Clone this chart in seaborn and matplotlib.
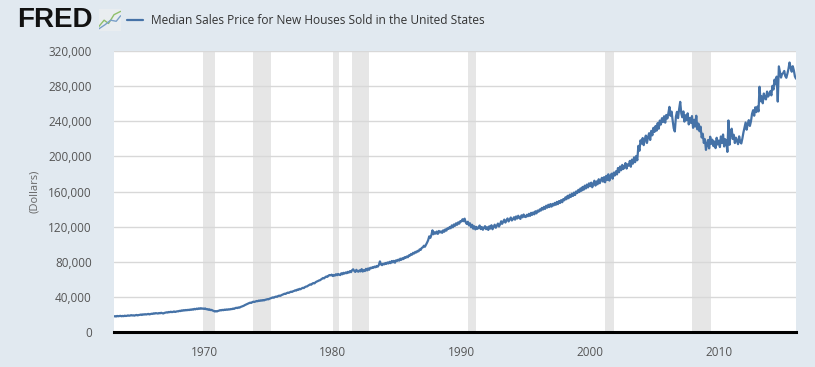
#!/usr/bin/env python3

import matplotlib
matplotlib.use("Agg")
import matplotlib.pyplot as plt
import matplotlib.dates as mdates
from matplotlib.lines import Line2D
from matplotlib.ticker import FuncFormatter
import numpy as np
import pandas as pd
import seaborn as sns

# Monthly median sales price, thousands of dollars
price_1960s = [
    17.8, 18.0, 17.6, 18.3, 17.9, 18.1, 18.4, 17.9, 18.3, 18.0, 18.6, 18.2,  # 1963
    18.4, 18.9, 18.5, 18.7, 19.2, 18.8, 19.0, 18.6, 19.1, 19.4, 18.9, 19.3,
    19.5, 19.9, 19.4, 20.1, 19.8, 20.3, 19.9, 20.2, 20.6, 20.0, 20.4, 20.8,
    20.6, 21.3, 20.9, 21.5, 21.2, 21.0, 21.6, 21.3, 21.9, 21.4, 21.1, 21.7,
    22.0, 22.4, 22.1, 22.8, 22.5, 23.1, 22.6, 22.9, 23.4, 22.8, 23.2, 23.6,
    23.5, 24.1, 23.8, 24.6, 24.2, 24.9, 24.5, 25.1, 24.7, 25.3, 24.9, 25.6,
    25.2, 25.9, 25.5, 26.3, 25.8, 26.6, 26.1, 26.9, 26.4, 27.1, 26.5, 26.8,
]
price_1970s = [
    26.2, 26.8, 25.9, 26.1, 25.3, 25.8, 24.9, 25.2, 24.4, 24.0, 23.3, 23.8,  # 1970
    23.4, 24.0, 24.3, 24.9, 24.6, 25.2, 24.8, 25.5, 25.1, 25.7, 25.3, 25.9,
    25.6, 26.2, 26.0, 26.7, 26.3, 27.1, 27.6, 27.2, 28.0, 27.7, 28.5, 28.9,
    29.4, 29.9, 30.6, 31.2, 31.8, 32.3, 32.9, 33.4, 33.1, 34.0, 34.5, 34.2,
    34.8, 35.3, 35.0, 35.8, 35.4, 36.1, 35.7, 36.4, 36.0, 36.7, 36.9, 37.4,
    37.2, 37.9, 38.3, 38.8, 39.4, 39.0, 39.8, 40.3, 40.0, 40.9, 41.4, 41.1,
    41.8, 42.5, 42.9, 43.6, 43.3, 44.2, 44.8, 44.5, 45.3, 45.9, 45.6, 46.4,
    46.8, 47.5, 47.2, 48.3, 48.0, 49.1, 48.7, 49.6, 50.3, 50.0, 51.1, 51.7,
    51.9, 52.8, 53.4, 54.2, 53.9, 55.1, 55.8, 55.4, 56.7, 57.4, 57.9, 58.6,
    58.9, 59.8, 60.7, 61.5, 61.1, 62.4, 63.2, 62.8, 64.1, 64.9, 64.5, 65.3,
]
price_1980s = [
    63.7, 64.9, 64.2, 65.8, 64.6, 66.1, 65.3, 64.8, 66.9, 65.7, 67.4, 66.5,  # 1980
    67.8, 66.9, 68.5, 67.6, 69.3, 68.1, 70.2, 71.4, 69.6, 68.4, 70.8, 69.1,
    68.7, 70.3, 69.0, 71.6, 68.8, 70.5, 69.4, 71.9, 70.1, 72.4, 70.9, 73.2,
    72.6, 73.8, 73.1, 74.5, 73.7, 75.2, 74.4, 76.3, 80.4, 76.9, 76.1, 77.8,
    77.0, 78.6, 77.5, 79.2, 78.0, 79.9, 78.4, 80.8, 79.3, 81.0, 78.9, 81.6,
    80.9, 82.4, 81.3, 83.5, 82.2, 84.1, 83.0, 85.2, 84.4, 86.0, 85.1, 87.3,
    87.0, 88.9, 88.1, 90.2, 89.4, 91.3, 90.6, 92.4, 91.8, 94.1, 93.5, 95.8,
    96.4, 98.3, 97.1, 99.5, 101.8, 104.6, 108.9, 107.2, 110.5, 115.8, 111.3, 113.6,
    112.0, 114.4, 111.7, 115.1, 113.3, 114.6, 112.9, 115.8, 114.2, 116.9, 115.5, 118.2,
    117.3, 119.6, 118.1, 121.4, 119.2, 122.5, 120.9, 123.8, 122.1, 124.9, 123.4, 126.3,
]
price_1990s = [
    125.8, 128.4, 126.2, 129.1, 124.9, 123.0, 125.6, 121.4, 123.8, 119.2, 122.1, 117.6,  # 1990
    120.4, 116.8, 119.7, 117.5, 118.9, 121.3, 117.2, 119.6, 116.4, 118.8, 120.5, 117.1,
    119.3, 116.2, 120.4, 117.8, 121.6, 117.0, 119.5, 122.2, 118.7, 121.0, 123.5, 120.1,
    122.6, 126.1, 123.2, 125.8, 128.0, 124.6, 127.1, 129.3, 125.9, 128.2, 130.4, 127.0,
    128.5, 130.7, 127.9, 131.6, 129.2, 132.4, 130.1, 128.8, 132.9, 130.6, 133.8, 131.2,
    130.9, 133.5, 131.8, 134.6, 132.2, 135.7, 133.4, 136.2, 134.0, 137.5, 135.1, 138.3,
    137.0, 139.6, 138.2, 141.3, 139.4, 142.5, 140.2, 143.8, 141.6, 144.9, 142.3, 145.7,
    142.8, 145.9, 144.1, 147.0, 144.8, 148.2, 145.6, 149.1, 146.9, 150.2, 147.8, 151.4,
    150.0, 153.4, 151.2, 155.1, 152.3, 156.4, 153.7, 157.6, 154.9, 158.8, 156.0, 160.1,
    158.2, 161.9, 159.4, 163.5, 160.8, 165.2, 162.0, 166.7, 163.4, 167.9, 164.6, 169.3,
]
price_2000s = [
    166.0, 170.1, 164.8, 168.9, 172.3, 166.7, 171.5, 168.2, 174.0, 169.4, 172.8, 175.6,  # 2000
    171.2, 176.4, 170.5, 177.8, 173.1, 179.6, 172.4, 176.9, 180.3, 174.6, 181.5, 178.2,
    183.0, 179.4, 186.7, 181.9, 188.5, 184.2, 190.3, 185.6, 187.9, 192.4, 186.1, 191.0,
    189.5, 194.8, 188.2, 196.3, 191.7, 198.9, 193.4, 200.5, 195.6, 212.0, 206.4, 218.3,
    214.6, 220.9, 212.8, 219.5, 223.7, 215.3, 221.8, 226.4, 218.7, 229.1, 224.0, 232.5,
    227.8, 234.6, 229.3, 237.9, 231.5, 240.8, 236.2, 243.5, 239.1, 245.7, 238.4, 247.2,
    243.1, 249.6, 256.4, 246.2, 251.0, 240.8, 232.0, 228.4, 245.3, 250.7, 243.6, 253.8,
    262.1, 248.9, 244.5, 251.2, 239.6, 246.8, 241.3, 249.0, 236.4, 243.7, 238.2, 245.9,
    232.5, 241.7, 234.0, 246.3, 230.8, 237.4, 228.6, 233.9, 221.5, 225.8, 215.3, 219.6,
    207.4, 213.8, 218.6, 209.1, 222.4, 214.3, 219.0, 211.7, 216.9, 209.4, 221.2, 213.5,
]
price_2010s = [
    218.0, 210.6, 222.7, 215.4, 224.9, 211.3, 219.6, 216.8, 205.1, 240.9, 213.2, 226.3,  # 2010
    231.5, 219.8, 224.6, 215.2, 221.3, 217.6, 213.9, 222.8, 216.4, 214.7, 220.5, 227.3,
    233.1, 238.6, 230.4, 236.9, 241.3, 234.7, 239.8, 248.5, 252.6, 246.3, 255.9, 250.4,
    256.7, 251.2, 279.3, 262.8, 268.4, 260.5, 271.6, 266.2, 264.9, 273.8, 268.1, 270.6,
    274.2, 269.5, 280.3, 276.1, 287.4, 282.0, 290.8, 262.4, 302.5, 296.3, 289.7, 293.8,
    294.8, 297.3, 291.6, 289.5, 294.1, 299.6, 306.9, 301.2, 296.4, 302.7, 297.8, 291.0,
    288.5,  # 2016-01
]

recession_starts = ["1969-12-01", "1973-11-01", "1980-01-01", "1981-07-01",
                    "1990-07-01", "2001-03-01", "2007-12-01"]
recession_ends = ["1970-11-01", "1975-03-01", "1980-07-01", "1982-11-01",
                  "1991-03-01", "2001-11-01", "2009-06-01"]

y_ticks = [0, 40000, 80000, 120000, 160000, 200000, 240000, 280000, 320000]

title = "Median Sales Price for New Houses Sold in the United States"

values = price_1960s + price_1970s + price_1980s + price_1990s + price_2000s + price_2010s
df = pd.DataFrame({
    "date": pd.date_range("1963-01-01", periods=len(values), freq="MS"),
    "price": np.array(values) * 1000,
})

bg = "#e1e9f0"
line_color = "#4572a7"

sns.set_theme(style="white")
plt.rcParams["font.family"] = ["Open Sans", "DejaVu Sans"]

fig = plt.figure(figsize=(8.15, 3.67), dpi=100, facecolor=bg)
ax = fig.add_axes([0.1399, 0.0954, 0.8368, 0.7656])
ax.set_facecolor("white")

for s, e in zip(recession_starts, recession_ends):
    ax.axvspan(pd.Timestamp(s), pd.Timestamp(e), color="#e6e6e6", lw=0, zorder=0)

for t in y_ticks[1:]:
    ax.axhline(t, color="#d8d8d8", lw=1, zorder=1)

sns.lineplot(data=df, x="date", y="price", color=line_color, lw=1.6, ax=ax, zorder=3)

ax.set_xlim(df["date"].iloc[0], df["date"].iloc[-1])
ax.set_ylim(0, 320000)
ax.set_yticks(y_ticks)
ax.yaxis.set_major_formatter(FuncFormatter(lambda v, p: f"{int(v):,}"))
ax.xaxis.set_major_locator(mdates.YearLocator(10))
ax.xaxis.set_major_formatter(mdates.DateFormatter("%Y"))

for side in ["top", "right", "left"]:
    ax.spines[side].set_visible(False)
ax.spines["bottom"].set_color("black")
ax.spines["bottom"].set_linewidth(2.2)
ax.spines["bottom"].set_zorder(5)

ax.tick_params(axis="x", colors="#ccd6eb", length=6, width=1, direction="out",
               labelcolor="#555555", labelsize=8.5, pad=4)
ax.tick_params(axis="y", length=0, labelcolor="#555555", labelsize=8.5, pad=16)
ax.set_xlabel("")
ax.set_ylabel("(Dollars)", color="#666666", fontsize=8, labelpad=6)

# header: logo and legend
fig.text(0.021, 0.945, "FRED", fontsize=20, fontweight="heavy", color="#111111",
         family=["Liberation Sans", "DejaVu Sans"], va="center", ha="left")
icon = fig.add_axes([0.121, 0.915, 0.027, 0.06])
icon.set_facecolor("#e9edf0")
icon.plot([0, 0.25, 0.45, 0.7, 1], [0.2, 0.5, 0.35, 0.75, 0.9], color="#8fbf6a", lw=1)
icon.plot([0, 0.3, 0.55, 0.8, 1], [0.1, 0.3, 0.5, 0.45, 0.7], color="#7aa0c8", lw=1)
icon.set_xlim(0, 1)
icon.set_ylim(0, 1)
icon.set_xticks([])
icon.set_yticks([])
for sp in icon.spines.values():
    sp.set_visible(False)

fig.add_artist(Line2D([0.156, 0.176], [0.945, 0.945], color=line_color, lw=1.6))
fig.text(0.185, 0.945, title, fontsize=8.6, color="#333333", va="center", ha="left")

fig.savefig("out.png", dpi=100, facecolor=bg)
